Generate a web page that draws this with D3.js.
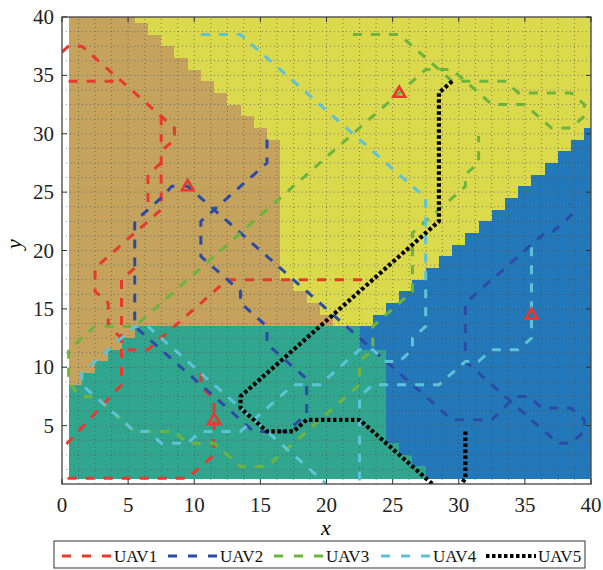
<!DOCTYPE html>
<html><head><meta charset="utf-8">
<script src="https://cdn.jsdelivr.net/npm/d3@7"></script>
<style>
body{margin:0;background:#fff}
text{font-family:"Liberation Serif","Times New Roman",serif}
</style>
</head><body>
<svg id="chart" width="603" height="570"></svg>
<script>
// Region map, run-length per row, from y=40 (top) down to y=1 (bottom)
const regionRows = [
 "B5Y35","B6Y34","B7Y33","B8Y32","B9Y31","B10Y30","B11Y29","B12Y28","B13Y27","B14Y26",
 "B15Y24U1","B16Y22U2","B16Y21U3","B16Y20U4","B16Y19U5","B16Y18U6","B16Y17U7","B16Y16U8","B16Y15U9","B16Y14U10",
 "B16Y13U11","B16Y12U12","B16Y11U13","B17Y9U14","B18Y7U15","B19Y5U16","B20Y3U17","B5T17U18","B4T18U18","B3T21U16",
 "B2T22U16","B1T23U16","T24U16","T24U16","T24U16","T24U16","T24U16","T25U15","T26U14","T27U13"
];
const regionColors = {B:"#c5a35d", Y:"#dbd94c", T:"#31a68e", U:"#2378b9"};

const xTicks = [0,5,10,15,20,25,30,35,40];
const yTicks = [5,10,15,20,25,30,35,40];

const uavNames  = ["UAV1","UAV2","UAV3","UAV4","UAV5"];
const uavColors = ["#e63a2e","#2b4ba6","#6db43f","#5ec3d8","#000000"];

const uav1 = [
 [[0,37],[0.5,37.5],[1.5,37.5],[8.5,30.5],[8.5,29.5],[7.5,28.5],[7.5,23.5],[2.5,18.5],[2.5,16.5],[3.5,15.5],[3.5,13.5],[4.5,12.5],[4.5,8.5],[0,3]],
 [[0.5,34.5],[4.5,34.5]],
 [[7.5,31.5],[7.5,29.3]],
 [[7.5,27.5],[6.5,26.5],[6.5,23.8]],
 [[5.5,18.5],[4.5,17.5],[4.5,12],[5,11.5],[6.5,11.5],[12.5,17.5],[23.5,17.5]],
 [[10.5,9.5],[10.5,8.3],[11.5,7.3],[11.5,2.5],[10.5,1.5],[9.5,0.5],[0.5,0.5],[0,1]]
];
const uav2 = [
 [[15.5,29.5],[15.5,27.5],[10.5,22.5],[10.5,19.5],[13.5,16.5],[13.5,15.5],[15.5,13.5],[15.5,12],[18.5,9],[18.5,6],[17,4.5],[14.5,4.5],[5.5,13.5],[5.5,22.5],[7.5,24.5],[8.3,25.5],[9.5,25.5],[29.5,5.5],[32.5,5.5],[34.3,7.5],[35.3,7.5],[36.3,6.5],[38.5,6.5],[39.5,5.5],[39.5,4.5],[38.5,3.5],[37.5,3.5],[30.5,10.5],[30.5,15.5],[36.5,21.5],[37,21.5],[38.5,23],[38.5,24]]
];
const uav3 = [
 [[22,38.5],[25.5,38.5],[28.5,35.5],[29.5,34.5],[33.5,34.5],[34.5,33.5],[38.5,33.5],[39.5,32.5],[39.5,31.5],[38.5,30.5],[37,30.5],[35,32.5],[32.5,32.5],[29.5,35.5],[27.5,35.5],[5.5,13.5],[2.5,13.5],[0.5,11.5],[0.5,8.8],[1.3,7.5],[2.5,7.5],[5.5,4.5],[8.5,4.5],[9.5,3.5],[11.5,3.5],[13.5,1.5],[15.5,1.5],[22.5,8.5],[22.5,10.5],[23.5,11.5],[23.5,13.5],[26.5,16.5],[26.5,21.5],[30.5,25.5],[30.5,26.5],[31.5,27.5],[31.5,29.8]]
];
const uav4 = [
 [[10.5,38.5],[13.5,38.5],[27.5,24.5],[27.5,13.5],[26.5,12.5],[26.5,11.5],[25.5,10.5],[24.5,10.5],[23.5,11.5],[22.5,11.5],[19.5,8.5],[17.5,8.5],[13.5,4.5],[10.5,4.5],[9.5,3.5],[7.5,3.5],[6.5,4.5],[5.5,4.5],[1.5,8.5],[1.5,9.5],[5.5,13.5],[6.5,13.5],[20,0]],
 [[22.5,0.3],[22.5,7.5],[23.5,8.5],[28.5,8.5],[30.5,10.5],[31.5,10.5],[32.5,11.5],[34.5,11.5],[35.5,12.5],[35.5,20.5]]
];
const uav5 = [
 [[29.5,34.5],[28.5,33.5],[28.5,22.5],[13.5,7.5],[13.5,6.5],[15.5,4.5],[17.5,4.5],[18.5,5.5],[22.5,5.5],[28,0]],
 [[30.5,4.5],[30.5,0.5],[30.2,0]]
];
const targets = [[9.5,25.5],[25.5,33.5],[11.5,5.5],[35.5,14.5]];

const svg = d3.select("#chart");
const x = d3.scaleLinear().domain([0,40]).range([62,591]);
const y = d3.scaleLinear().domain([0,40]).range([484,17]);

svg.append("defs").append("clipPath").attr("id","plotClip")
  .append("rect").attr("x",x(0)).attr("y",y(40)).attr("width",x(40)-x(0)).attr("height",y(0)-y(40));

const plot = svg.append("g").attr("clip-path","url(#plotClip)");

// cells
const cells = [];
regionRows.forEach((row,i) => {
  const yc = 40 - i;
  let xc = 1;
  const re = /([A-Z])(\d+)/g; let m;
  while ((m = re.exec(row)) !== null) {
    const n = +m[2];
    for (let k=0;k<n;k++) { cells.push({x:xc, y:yc, r:m[1]}); xc++; }
  }
});
plot.append("g").selectAll("rect").data(cells).join("rect")
  .attr("x", d => x(d.x-0.5))
  .attr("y", d => y(d.y+0.5))
  .attr("width", d => x(d.x+0.5)-x(d.x-0.5)+0.4)
  .attr("height", d => y(d.y-0.5)-y(d.y+0.5)+0.4)
  .attr("fill", d => regionColors[d.r])
  .attr("shape-rendering","crispEdges");

// dotted grid every 1.25
const gridVals = d3.range(1.25, 40, 1.25);
const grid = plot.append("g").attr("stroke","#4a4a4a").attr("stroke-opacity",0.6)
  .attr("stroke-width",1).attr("stroke-dasharray","1,3");
grid.selectAll("line.v").data(gridVals).join("line").attr("class","v")
  .attr("x1",d=>x(d)).attr("x2",d=>x(d)).attr("y1",y(0)).attr("y2",y(40));
grid.selectAll("line.h").data(gridVals).join("line").attr("class","h")
  .attr("y1",d=>y(d)).attr("y2",d=>y(d)).attr("x1",x(0)).attr("x2",x(40));

// paths
const line = d3.line().x(d=>x(d[0])).y(d=>y(d[1]));
const allUav = [uav1,uav2,uav3,uav4,uav5];
allUav.forEach((segs,i) => {
  const dotted = i===4;
  plot.append("g").selectAll("path").data(segs).join("path")
    .attr("d", line)
    .attr("fill","none")
    .attr("stroke", uavColors[i])
    .attr("stroke-width", dotted ? 4.2 : 3)
    .attr("stroke-dasharray", dotted ? "3.5,2.5" : "9,9")
    .attr("stroke-linejoin","round");
});

// target triangles
const tri = d3.symbol().type(d3.symbolTriangle).size(60);
plot.append("g").selectAll("path").data(targets).join("path")
  .attr("d", tri)
  .attr("transform", d => `translate(${x(d[0])},${y(d[1])+0.5})`)
  .attr("fill","none").attr("stroke","#e63a2e").attr("stroke-width",2.6);

// axes box and ticks
const ax = svg.append("g");
ax.append("rect").attr("x",x(0)).attr("y",y(40)).attr("width",x(40)-x(0)).attr("height",y(0)-y(40))
  .attr("fill","none").attr("stroke","#444").attr("stroke-width",1.3);
const tl = 5;
ax.selectAll("line.xb").data(xTicks).join("line").attr("class","xb")
  .attr("x1",d=>x(d)).attr("x2",d=>x(d)).attr("y1",y(0)).attr("y2",y(0)-tl).attr("stroke","#333");
ax.selectAll("line.xt").data(xTicks).join("line").attr("class","xt")
  .attr("x1",d=>x(d)).attr("x2",d=>x(d)).attr("y1",y(40)).attr("y2",y(40)+tl).attr("stroke","#333");
ax.selectAll("line.yl").data(yTicks).join("line").attr("class","yl")
  .attr("y1",d=>y(d)).attr("y2",d=>y(d)).attr("x1",x(0)).attr("x2",x(0)+tl).attr("stroke","#333");
ax.selectAll("line.yr").data(yTicks).join("line").attr("class","yr")
  .attr("y1",d=>y(d)).attr("y2",d=>y(d)).attr("x1",x(40)).attr("x2",x(40)-tl).attr("stroke","#333");

ax.selectAll("text.xl").data(xTicks).join("text").attr("class","xl")
  .attr("x",d=>x(d)).attr("y",512).attr("text-anchor","middle")
  .style("font-family","'Liberation Serif', serif").attr("font-size",21).attr("fill","#222").text(d=>d);
ax.selectAll("text.ylab").data(yTicks).join("text").attr("class","ylab")
  .attr("x",54).attr("y",d=>y(d)+7).attr("text-anchor","end")
  .style("font-family","'Liberation Serif', serif").attr("font-size",21).attr("fill","#222").text(d=>d);

svg.append("text").attr("x",326).attr("y",535).attr("text-anchor","middle")
  .style("font-family","'Liberation Serif', serif").attr("font-style","italic").attr("font-size",22).text("x");
svg.append("text").attr("transform","translate(21,244) rotate(-90)").attr("text-anchor","middle")
  .style("font-family","'Liberation Serif', serif").attr("font-style","italic").attr("font-size",22).text("y");

// legend
const lg = svg.append("g");
lg.append("rect").attr("x",54).attr("y",541).attr("width",531).attr("height",27)
  .attr("fill","#fff").attr("stroke","#333").attr("stroke-width",1);
const legX = [62,168,274,381,486];
uavNames.forEach((nm,i) => {
  const dotted = i===4;
  lg.append("line").attr("x1",legX[i]).attr("x2",legX[i]+50).attr("y1",556).attr("y2",556)
    .attr("stroke",uavColors[i]).attr("stroke-width",dotted?4:3)
    .attr("stroke-dasharray",dotted?"3.5,2.5":"9,11");
  lg.append("text").attr("x",legX[i]+52).attr("y",562)
    .style("font-family","'Liberation Serif', serif")
    .attr("font-size",17).attr("fill","#111").text(nm);
});
</script>
</body></html>
